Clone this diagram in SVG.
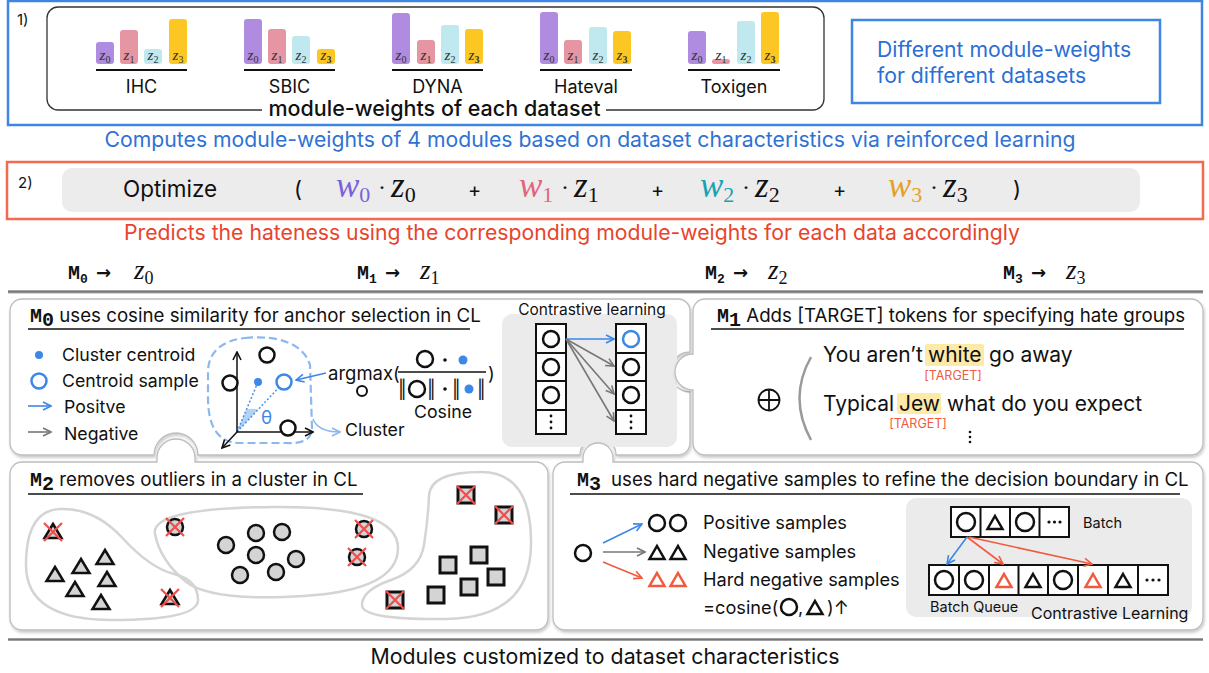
<svg xmlns="http://www.w3.org/2000/svg" width="1209" height="673" viewBox="0 0 1209 673">
<defs>
<style>
text{font-family:Inter,"Liberation Sans",sans-serif;fill:#111}
.zl{font-family:"Liberation Serif",serif;font-style:italic;font-size:15px;text-anchor:middle;fill:#333}
.zs{font-style:normal;font-size:10px}
.ds{font-size:18px;text-anchor:middle}
.mm{font-family:"Liberation Mono",monospace;font-weight:bold;font-size:20px}
.ms{font-size:13px}
.mz{font-family:"Liberation Serif",serif;font-style:italic;font-size:27px}
.mzs{font-style:normal;font-size:18px}
.arr{font-family:"DejaVu Sans",sans-serif;font-size:18px;font-weight:bold}
.w{font-family:"Liberation Serif",serif;font-style:italic;font-size:35px}
.wsub{font-style:normal;font-size:22px}
.dot{font-family:"Liberation Serif",serif;font-size:24px}
.ttl{font-size:18.7px}
.lg{font-size:17.7px}
.panel{fill:#fff;stroke:#bdbdbd;stroke-width:1.3;filter:url(#sh)}
.ul{stroke:#111;stroke-width:1.6}
.bk{fill:none;stroke:#111;stroke-width:2.5}
.bkc{fill:#fff;stroke:#111;stroke-width:2.5}
.gc{fill:#d4d4d4;stroke:#111;stroke-width:2.5}
.gs{fill:#d4d4d4;stroke:#111;stroke-width:3}
.rx{stroke:#f24c4c;stroke-width:2.2;fill:none}
.cell{fill:#fff;stroke:#111;stroke-width:2}
</style>
<filter id="sh" x="-5%" y="-5%" width="110%" height="115%"><feDropShadow dx="1" dy="2" stdDeviation="1.5" flood-color="#000" flood-opacity="0.22"/></filter>
<marker id="ab" viewBox="0 0 10 10" refX="9" refY="5" markerWidth="10" markerHeight="10" markerUnits="userSpaceOnUse" orient="auto"><path d="M1,1 L9,5 L1,9" fill="none" stroke="#3d87e6" stroke-width="1.6"/></marker>
<marker id="alb" viewBox="0 0 10 10" refX="9" refY="5" markerWidth="10" markerHeight="10" markerUnits="userSpaceOnUse" orient="auto"><path d="M1,1 L9,5 L1,9" fill="none" stroke="#8cb8f0" stroke-width="1.6"/></marker>
<marker id="ag" viewBox="0 0 10 10" refX="9" refY="5" markerWidth="10" markerHeight="10" markerUnits="userSpaceOnUse" orient="auto"><path d="M1,1 L9,5 L1,9" fill="none" stroke="#777" stroke-width="1.6"/></marker>
<marker id="ar" viewBox="0 0 10 10" refX="9" refY="5" markerWidth="10" markerHeight="10" markerUnits="userSpaceOnUse" orient="auto"><path d="M1,1 L9,5 L1,9" fill="none" stroke="#f25a3e" stroke-width="1.6"/></marker>
<marker id="ak" viewBox="0 0 10 10" refX="9" refY="5" markerWidth="10" markerHeight="10" markerUnits="userSpaceOnUse" orient="auto"><path d="M1,1 L9,5 L1,9" fill="none" stroke="#111" stroke-width="1.6"/></marker>
<path id="tri" d="M0,-8 L8.5,6 L-8.5,6 Z"/>
<path id="trs" d="M0,-7 L7.5,6 L-7.5,6 Z"/>
<g id="xx"><path d="M-9,-9 L9,9 M9,-9 L-9,9"/></g>
</defs>

<rect width="1209" height="673" fill="#fff"/>

<!-- Section 1 -->
<g id="sec1">
<rect x="8" y="1" width="1194" height="124" fill="none" stroke="#3f86e4" stroke-width="2.5"/>
<text x="17" y="25" font-size="15">1)</text>
<path d="M262,110 H58 a11,11 0 0 1 -11,-11 V18 a11,11 0 0 1 11,-11 H813 a11,11 0 0 1 11,11 V99 a11,11 0 0 1 -11,11 H606" fill="none" stroke="#333" stroke-width="1.3"/>
<text x="434.5" y="116" font-size="21.5" font-weight="500" text-anchor="middle">module-weights of each dataset</text>
</g>

<g id="chart-ihc">
<rect x="96" y="42" width="18" height="22" rx="3" fill="#b08ce0"/>
<rect x="120" y="30" width="18" height="34" rx="3" fill="#e596a2"/>
<rect x="144" y="49" width="18" height="15" rx="3" fill="#bfe9ef"/>
<rect x="169" y="19" width="18" height="45" rx="3" fill="#fdc723"/>
<text class="zl" x="105" y="60">z<tspan class="zs" dy="3">0</tspan></text>
<text class="zl" x="129" y="60">z<tspan class="zs" dy="3">1</tspan></text>
<text class="zl" x="153" y="60">z<tspan class="zs" dy="3">2</tspan></text>
<text class="zl" x="178" y="60">z<tspan class="zs" dy="3">3</tspan></text>
<line x1="96" y1="70" x2="187" y2="70" stroke="#111" stroke-width="2"/>
<text class="ds" x="141.5" y="93">IHC</text>
</g>
<g id="chart-sbic">
<rect x="244" y="19" width="18" height="45" rx="3" fill="#b08ce0"/>
<rect x="268" y="29" width="18" height="35" rx="3" fill="#e596a2"/>
<rect x="292" y="36" width="18" height="28" rx="3" fill="#bfe9ef"/>
<rect x="317" y="49" width="18" height="15" rx="3" fill="#fdc723"/>
<text class="zl" x="253" y="60">z<tspan class="zs" dy="3">0</tspan></text>
<text class="zl" x="277" y="60">z<tspan class="zs" dy="3">1</tspan></text>
<text class="zl" x="301" y="60">z<tspan class="zs" dy="3">2</tspan></text>
<text class="zl" x="326" y="60">z<tspan class="zs" dy="3" font-weight="bold">3</tspan></text>
<line x1="244" y1="70" x2="335" y2="70" stroke="#111" stroke-width="2"/>
<text class="ds" x="289.5" y="93">SBIC</text>
</g>
<g id="chart-dyna">
<rect x="392" y="13" width="18" height="51" rx="3" fill="#b08ce0"/>
<rect x="417" y="40" width="18" height="24" rx="3" fill="#e596a2"/>
<rect x="441" y="25" width="18" height="39" rx="3" fill="#bfe9ef"/>
<rect x="465" y="29" width="18" height="35" rx="3" fill="#fdc723"/>
<text class="zl" x="401" y="60">z<tspan class="zs" dy="3">0</tspan></text>
<text class="zl" x="426" y="60">z<tspan class="zs" dy="3">1</tspan></text>
<text class="zl" x="450" y="60">z<tspan class="zs" dy="3">2</tspan></text>
<text class="zl" x="474" y="60">z<tspan class="zs" dy="3" font-weight="bold">3</tspan></text>
<line x1="392" y1="70" x2="483" y2="70" stroke="#111" stroke-width="2"/>
<text class="ds" x="437.5" y="93">DYNA</text>
</g>
<g id="chart-hateval">
<rect x="540" y="12" width="18" height="52" rx="3" fill="#b08ce0"/>
<rect x="564" y="40" width="18" height="24" rx="3" fill="#e596a2"/>
<rect x="589" y="27" width="18" height="37" rx="3" fill="#bfe9ef"/>
<rect x="613" y="31" width="18" height="33" rx="3" fill="#fdc723"/>
<text class="zl" x="549" y="60">z<tspan class="zs" dy="3">0</tspan></text>
<text class="zl" x="573" y="60">z<tspan class="zs" dy="3">1</tspan></text>
<text class="zl" x="598" y="60">z<tspan class="zs" dy="3">2</tspan></text>
<text class="zl" x="622" y="60">z<tspan class="zs" dy="3" font-weight="bold">3</tspan></text>
<line x1="540" y1="70" x2="632" y2="70" stroke="#111" stroke-width="2"/>
<text class="ds" x="586" y="93">Hateval</text>
</g>
<g id="chart-toxigen">
<rect x="688" y="31" width="18" height="33" rx="3" fill="#b08ce0"/>
<rect x="712" y="59" width="18" height="5" rx="2.5" fill="#e596a2"/>
<rect x="737" y="21" width="18" height="43" rx="3" fill="#bfe9ef"/>
<rect x="761" y="12" width="18" height="52" rx="3" fill="#fdc723"/>
<text class="zl" x="697" y="60">z<tspan class="zs" dy="3">0</tspan></text>
<text class="zl" x="721" y="60">z<tspan class="zs" dy="3">1</tspan></text>
<text class="zl" x="746" y="60">z<tspan class="zs" dy="3">2</tspan></text>
<text class="zl" x="770" y="60">z<tspan class="zs" dy="3" font-weight="bold">3</tspan></text>
<line x1="688" y1="70" x2="780" y2="70" stroke="#111" stroke-width="2"/>
<text class="ds" x="734" y="93">Toxigen</text>
</g>

<g id="note1">
<rect x="852" y="20" width="308" height="83" fill="none" stroke="#3f86e4" stroke-width="2.5"/>
<text x="877" y="57" font-size="21.2" style="fill:#2b6fd4">Different module-weights</text>
<text x="877" y="83" font-size="21.2" style="fill:#2b6fd4">for different datasets</text>
</g>
<text x="590" y="147" font-size="21.2" text-anchor="middle" style="fill:#2f72d4">Computes module-weights of 4 modules based on dataset characteristics via reinforced learning</text>

<!-- Section 2 -->
<g id="sec2">
<rect x="7" y="162" width="1196" height="57" fill="none" stroke="#f26a50" stroke-width="2.5"/>
<rect x="62" y="168" width="1078" height="44" rx="10" fill="#ececec"/>
<text x="18" y="188" font-size="15">2)</text>
<text x="123" y="197" font-size="22.5">Optimize</text>
<text x="294" y="197" font-size="22">(</text>
<text class="w" x="336" y="197" style="fill:#7b5fdc">w<tspan class="wsub" dy="5">0</tspan></text>
<text class="dot" x="378" y="195">·</text>
<text class="w" x="391" y="197">z<tspan class="wsub" dy="5">0</tspan></text>
<text x="468" y="197" font-size="20">+</text>
<text class="w" x="519" y="197" style="fill:#e0657e">w<tspan class="wsub" dy="5">1</tspan></text>
<text class="dot" x="561" y="195">·</text>
<text class="w" x="574" y="197">z<tspan class="wsub" dy="5">1</tspan></text>
<text x="651" y="197" font-size="20">+</text>
<text class="w" x="700" y="197" style="fill:#1ba2b2">w<tspan class="wsub" dy="5">2</tspan></text>
<text class="dot" x="742" y="195">·</text>
<text class="w" x="755" y="197">z<tspan class="wsub" dy="5">2</tspan></text>
<text x="833" y="197" font-size="20">+</text>
<text class="w" x="888" y="197" style="fill:#e2a12a">w<tspan class="wsub" dy="5">3</tspan></text>
<text class="dot" x="930" y="195">·</text>
<text class="w" x="943" y="197">z<tspan class="wsub" dy="5">3</tspan></text>
<text x="1013" y="197" font-size="22">)</text>
</g>
<text x="572" y="240" font-size="21.2" text-anchor="middle" style="fill:#e8442c">Predicts the hateness using the corresponding module-weights for each data accordingly</text>

<!-- M row -->
<g id="mrow">
<text class="mm" x="68" y="279">M<tspan class="ms" dy="4">0</tspan></text>
<text class="arr" x="96" y="279">→</text>
<text class="mz" x="134" y="279">z<tspan class="mzs" dy="5">0</tspan></text>
<text class="mm" x="357" y="279">M<tspan class="ms" dy="4">1</tspan></text>
<text class="arr" x="385" y="279">→</text>
<text class="mz" x="420" y="279">z<tspan class="mzs" dy="5">1</tspan></text>
<text class="mm" x="705" y="279">M<tspan class="ms" dy="4">2</tspan></text>
<text class="arr" x="733" y="279">→</text>
<text class="mz" x="768" y="279">z<tspan class="mzs" dy="5">2</tspan></text>
<text class="mm" x="1003" y="279">M<tspan class="ms" dy="4">3</tspan></text>
<text class="arr" x="1031" y="279">→</text>
<text class="mz" x="1066" y="279">z<tspan class="mzs" dy="5">3</tspan></text>
</g>
<rect x="8" y="290" width="1195" height="3.5" fill="#a8a8a8"/>
<rect x="8" y="291" width="1195" height="1.5" fill="#777"/>

<!-- Panel M0 + contrastive learning -->
<g id="panel-m0">
<path class="panel" d="M10,311 a12,12 0 0 1 12,-12 H678 a12,12 0 0 1 12,12 V352 A20,20 0 0 0 690,392 V443 a12,12 0 0 1 -12,12 H616 A18,18 0 0 0 580,455 H198 A22,22 0 0 0 154,455 H22 a12,12 0 0 1 -12,-12 Z"/>
<text class="ttl" x="30" y="322"><tspan class="mm" font-size="19">M</tspan><tspan class="mm" font-size="13" dy="4">0</tspan><tspan dy="-4"> uses cosine similarity for anchor selection in CL</tspan></text>
<line class="ul" x1="28" y1="329" x2="470" y2="329"/>
<circle cx="39" cy="355" r="4" fill="#3d87e6"/>
<text class="lg" x="62" y="361">Cluster centroid</text>
<circle cx="39" cy="381" r="7.5" fill="none" stroke="#3d87e6" stroke-width="2.5"/>
<text class="lg" x="62" y="387">Centroid sample</text>
<line x1="28" y1="406" x2="51" y2="406" stroke="#3d87e6" stroke-width="1.6" marker-end="url(#ab)"/>
<text class="lg" x="64" y="413">Positve</text>
<line x1="28" y1="432" x2="51" y2="432" stroke="#777" stroke-width="1.6" marker-end="url(#ag)"/>
<text class="lg" x="64" y="440">Negative</text>
<path d="M245,338 C275,335 303,342 310,365 L312,428 C312,440 302,444 285,443 L240,443 C215,443 208,422 208,398 L208,372 C208,350 225,340 245,338 Z" fill="none" stroke="#8cb8f0" stroke-width="2.2" stroke-dasharray="8 4"/>
<path d="M237,432 L246.5,409.5 Q252,408 258,409.5 Z" fill="#b3d0f5"/>
<line x1="237" y1="432" x2="258" y2="382" stroke="#4a90e2" stroke-width="1.5" stroke-dasharray="2 2"/>
<line x1="237" y1="432" x2="284" y2="382" stroke="#4a90e2" stroke-width="1.5" stroke-dasharray="2 2"/>
<line x1="237" y1="432" x2="237" y2="352" stroke="#111" stroke-width="1.5" marker-end="url(#ak)"/>
<line x1="237" y1="432" x2="313" y2="432" stroke="#111" stroke-width="1.5" marker-end="url(#ak)"/>
<line x1="237" y1="432" x2="222" y2="448" stroke="#111" stroke-width="1.5" marker-end="url(#ak)"/>
<circle cx="267" cy="355" r="7.5" class="bkc"/>
<circle cx="230" cy="383" r="7.5" class="bkc"/>
<circle cx="288" cy="428" r="7.5" class="bkc"/>
<circle cx="258" cy="382" r="4" fill="#3d87e6"/>
<circle cx="284" cy="382" r="7.5" fill="#fff" stroke="#3d87e6" stroke-width="2.5"/>
<text x="261" y="424" font-size="18" style="fill:#3d87e6">θ</text>
<path d="M313,419 Q318,432 340,432" fill="none" stroke="#8cb8f0" stroke-width="1.6" marker-end="url(#alb)"/>
<text class="lg" x="345" y="436">Cluster</text>
<path d="M326,373 L296,380" fill="none" stroke="#3d87e6" stroke-width="1.6" marker-end="url(#ab)"/>
<text x="328" y="380" font-size="18.5">argmax(</text>
<circle cx="362" cy="391" r="5" fill="none" stroke="#111" stroke-width="2"/>
<circle cx="425" cy="359" r="8" class="bkc"/>
<circle cx="445" cy="360" r="1.8" fill="#111"/>
<circle cx="463" cy="360" r="4.5" fill="#3d87e6"/>
<line x1="398" y1="372" x2="486" y2="372" stroke="#111" stroke-width="1.6"/>
<text x="398" y="396" font-size="18">‖</text>
<circle cx="417" cy="389" r="8" class="bkc"/>
<text x="427" y="396" font-size="18">‖</text>
<circle cx="445" cy="389" r="1.8" fill="#111"/>
<text x="452" y="396" font-size="18">‖</text>
<circle cx="469" cy="389" r="4.5" fill="#3d87e6"/>
<text x="477" y="396" font-size="18">‖</text>
<text x="488" y="380" font-size="18.5">)</text>
<text class="lg" x="443" y="418" text-anchor="middle">Cosine</text>
</g>

<g id="contrastive">
<rect x="502" y="314" width="175" height="133" rx="10" fill="#ebebeb"/>
<text x="592" y="315" font-size="15.5" text-anchor="middle">Contrastive learning</text>
<rect x="536" y="324" width="30" height="110" class="cell"/>
<path d="M536,353 H566 M536,381 H566 M536,410 H566" stroke="#111" stroke-width="2"/>
<circle cx="551" cy="339" r="8" class="bkc"/>
<circle cx="551" cy="367" r="8" class="bkc"/>
<circle cx="551" cy="395" r="8" class="bkc"/>
<circle cx="551" cy="416" r="1.4" fill="#111"/><circle cx="551" cy="422" r="1.4" fill="#111"/><circle cx="551" cy="428" r="1.4" fill="#111"/>
<rect x="616" y="324" width="30" height="110" class="cell"/>
<path d="M616,353 H646 M616,381 H646 M616,410 H646" stroke="#111" stroke-width="2"/>
<circle cx="631" cy="339" r="8" fill="#fff" stroke="#3d87e6" stroke-width="2.5"/>
<circle cx="631" cy="367" r="8" class="bkc"/>
<circle cx="631" cy="395" r="8" class="bkc"/>
<circle cx="631" cy="416" r="1.4" fill="#111"/><circle cx="631" cy="422" r="1.4" fill="#111"/><circle cx="631" cy="428" r="1.4" fill="#111"/>
</g>
<g id="connectors-cl">
<line x1="566" y1="339" x2="614" y2="339" stroke="#3d87e6" stroke-width="1.6" marker-end="url(#ab)"/>
<line x1="566" y1="339" x2="614" y2="366" stroke="#777" stroke-width="1.6" marker-end="url(#ag)"/>
<line x1="566" y1="339" x2="614" y2="394" stroke="#777" stroke-width="1.6" marker-end="url(#ag)"/>
<line x1="566" y1="339" x2="614" y2="421" stroke="#777" stroke-width="1.6" marker-end="url(#ag)"/>
</g>

<!-- Panel M1 -->
<g id="panel-m1">
<path class="panel" d="M705,299 H1191 a12,12 0 0 1 12,12 V443 a12,12 0 0 1 -12,12 H705 a12,12 0 0 1 -12,-12 V390 A18,18 0 0 1 693,354 V311 a12,12 0 0 1 12,-12 Z"/>
<text class="ttl" x="717" y="322" font-size="19"><tspan class="mm" font-size="19">M</tspan><tspan class="mm" font-size="13" dy="4">1</tspan><tspan dy="-4"> Adds [TARGET] tokens for specifying hate groups</tspan></text>
<line class="ul" x1="711" y1="329" x2="1184" y2="329"/>
<circle cx="769" cy="400" r="10.5" fill="none" stroke="#111" stroke-width="1.8"/>
<path d="M758.5,400 H779.5 M769,389.5 V410.5" stroke="#111" stroke-width="1.8"/>
<path d="M811,357 Q788,398 811,440" fill="none" stroke="#9a9a9a" stroke-width="2.5"/>
<rect x="925" y="344" width="59" height="22" rx="2" fill="#fde9a8"/>
<text x="823" y="362" font-size="21">You aren’t</text>
<text x="928" y="362" font-size="21">white</text>
<text x="989" y="362" font-size="21">go away</text>
<text x="953" y="380" font-size="12.5" text-anchor="middle" style="fill:#f05a3e">[TARGET]</text>
<rect x="897" y="393" width="44" height="21" rx="2" fill="#fde9a8"/>
<text x="823" y="411" font-size="21">Typical</text>
<text x="899" y="411" font-size="21">Jew</text>
<text x="947" y="411" font-size="21">what do you expect</text>
<text x="918" y="428" font-size="12.5" text-anchor="middle" style="fill:#f05a3e">[TARGET]</text>
<circle cx="970" cy="432" r="1.3" fill="#111"/><circle cx="970" cy="437" r="1.3" fill="#111"/><circle cx="970" cy="442" r="1.3" fill="#111"/>
</g>

<!-- Panel M2 -->
<g id="panel-m2">
<path class="panel" d="M22,462 H157 V458 A19,19 0 0 1 195,458 V462 H536 a12,12 0 0 1 12,12 V618 a12,12 0 0 1 -12,12 H22 a12,12 0 0 1 -12,-12 V474 a12,12 0 0 1 12,-12 Z"/>
<text class="ttl" x="30" y="486"><tspan class="mm" font-size="19">M</tspan><tspan class="mm" font-size="13" dy="4">2</tspan><tspan dy="-4"> removes outliers in a cluster in CL</tspan></text>
<line class="ul" x1="28" y1="494" x2="363" y2="494"/>
<g fill="none" stroke="#d4d4d4" stroke-width="2.5">
<path d="M26,565 Q26,510 60.5,509 Q95,508 122.5,538 Q150,568 174,574 Q198,580 198,600 Q198,620 112,620 Q26,620 26,565 Z"/>
<path d="M155,534 Q150,508 274,507 Q398,506 398,548 Q398,590 304,596 Q210,602 185,581 Q160,560 155,534 Z"/>
<path d="M429,496 Q430,472 481,472 Q532,472 531,545 Q530,618 446,619 Q362,620 362,605 Q362,590 391,580 Q420,570 424,545 Q428,520 429,496 Z"/>
</g>
<g class="gc">
<use href="#tri" x="53" y="532"/><use href="#tri" x="170" y="598"/>
<use href="#tri" x="55" y="575"/><use href="#tri" x="81" y="567"/><use href="#tri" x="105" y="558"/>
<use href="#tri" x="107" y="580"/><use href="#tri" x="75" y="590"/><use href="#tri" x="101" y="603"/>
<circle cx="175" cy="527" r="8"/><circle cx="364" cy="529" r="8"/><circle cx="357" cy="557" r="8"/>
<circle cx="226" cy="545" r="8"/><circle cx="256" cy="533" r="8"/><circle cx="282" cy="532" r="8"/>
<circle cx="256" cy="555" r="8"/><circle cx="296" cy="559" r="8"/><circle cx="240" cy="575" r="8"/><circle cx="276" cy="572" r="8"/>
</g>
<g class="gs">
<rect x="458" y="487" width="16" height="16"/><rect x="496" y="507" width="16" height="16"/><rect x="387" y="592" width="16" height="16"/>
<rect x="471" y="547" width="16" height="16"/><rect x="440" y="557" width="16" height="16"/><rect x="488" y="569" width="16" height="16"/>
<rect x="461" y="579" width="16" height="16"/><rect x="428" y="587" width="16" height="16"/>
</g>
<g class="rx">
<use href="#xx" x="53" y="532"/><use href="#xx" x="170" y="598"/>
<use href="#xx" x="175" y="527"/><use href="#xx" x="364" y="529"/><use href="#xx" x="357" y="557"/>
<use href="#xx" x="466" y="495"/><use href="#xx" x="504" y="515"/><use href="#xx" x="395" y="600"/>
</g>
</g>

<!-- Panel M3 -->
<g id="panel-m3">
<path class="panel" d="M565,462 H583 V458 A15,15 0 0 1 613,458 V462 H1191 a12,12 0 0 1 12,12 V618 a12,12 0 0 1 -12,12 H565 a12,12 0 0 1 -12,-12 V474 a12,12 0 0 1 12,-12 Z"/>
<text class="ttl" x="577" y="486" font-size="19.2"><tspan class="mm" font-size="19">M</tspan><tspan class="mm" font-size="13" dy="4">3</tspan><tspan dy="-4" dx="10">uses hard negative samples to refine the decision boundary in CL</tspan></text>
<line class="ul" x1="570" y1="494" x2="1180" y2="494"/>
<circle cx="583" cy="553" r="8" class="bkc"/>
<line x1="603" y1="543" x2="642" y2="524" stroke="#3d87e6" stroke-width="1.6" marker-end="url(#ab)"/>
<line x1="603" y1="552" x2="645" y2="552" stroke="#777" stroke-width="1.6" marker-end="url(#ag)"/>
<line x1="603" y1="562" x2="642" y2="578" stroke="#f25a3e" stroke-width="1.6" marker-end="url(#ar)"/>
<circle cx="657" cy="523" r="8" class="bkc"/><circle cx="678" cy="523" r="8" class="bkc"/>
<use href="#trs" x="657" y="553" class="bk"/><use href="#trs" x="678" y="553" class="bk"/>
<use href="#trs" x="657" y="580" fill="none" stroke="#f25a3e" stroke-width="2.5"/><use href="#trs" x="678" y="580" fill="none" stroke="#f25a3e" stroke-width="2.5"/>
<text x="703" y="529" font-size="18.2">Positive samples</text>
<text x="703" y="558" font-size="18.2">Negative samples</text>
<text x="703" y="586" font-size="18.2">Hard negative samples</text>
<text x="703" y="614" font-size="18.2">=cosine(</text>
<circle cx="789" cy="607" r="8" class="bkc"/>
<text x="798" y="614" font-size="18.2">,</text>
<use href="#trs" x="815" y="608" class="bk"/>
<text x="827" y="614" font-size="18.2">)↑</text>
<rect x="906" y="498" width="286" height="119" rx="10" fill="#ebebeb"/>
<rect x="951" y="507" width="118" height="30" class="cell"/>
<path d="M980.5,507 V537 M1010,507 V537 M1039.5,507 V537" stroke="#111" stroke-width="2"/>
<circle cx="966" cy="522" r="9" class="bkc"/>
<use href="#trs" x="995" y="523" class="bk"/>
<circle cx="1025" cy="522" r="9" class="bkc"/>
<g fill="#111"><circle cx="1049" cy="522" r="1.6"/><circle cx="1054.5" cy="522" r="1.6"/><circle cx="1060" cy="522" r="1.6"/></g>
<text x="1083" y="528" font-size="14.5">Batch</text>
<rect x="929" y="565" width="239" height="30" class="cell"/>
<path d="M959,565 V595 M989,565 V595 M1018.5,565 V595 M1048,565 V595 M1078,565 V595 M1108,565 V595 M1138,565 V595" stroke="#111" stroke-width="2"/>
<circle cx="944" cy="580" r="9" class="bkc"/>
<circle cx="974" cy="580" r="9" class="bkc"/>
<use href="#trs" x="1004" y="581" fill="none" stroke="#f25a3e" stroke-width="2.5"/>
<use href="#trs" x="1033" y="581" class="bk"/>
<circle cx="1063" cy="580" r="9" class="bkc"/>
<use href="#trs" x="1093" y="581" fill="none" stroke="#f25a3e" stroke-width="2.5"/>
<use href="#trs" x="1123" y="581" class="bk"/>
<g fill="#111"><circle cx="1147" cy="580" r="1.6"/><circle cx="1153" cy="580" r="1.6"/><circle cx="1159" cy="580" r="1.6"/></g>
<text x="930" y="612" font-size="14.5">Batch Queue</text>
<text x="1031" y="619" font-size="16">Contrastive Learning</text>
</g>
<g id="connectors-batch">
<line x1="967" y1="537" x2="947" y2="564" stroke="#3d87e6" stroke-width="1.6" marker-end="url(#ab)"/>
<line x1="967" y1="537" x2="1003" y2="564" stroke="#f25a3e" stroke-width="1.6" marker-end="url(#ar)"/>
<line x1="969" y1="537" x2="1092" y2="564" stroke="#f25a3e" stroke-width="1.6" marker-end="url(#ar)"/>
</g>

<rect x="8" y="638" width="1195" height="3" fill="#a8a8a8"/>
<rect x="8" y="638.8" width="1195" height="1.4" fill="#777"/>
<text x="605" y="664" font-size="21.3" text-anchor="middle">Modules customized to dataset characteristics</text>
</svg>
